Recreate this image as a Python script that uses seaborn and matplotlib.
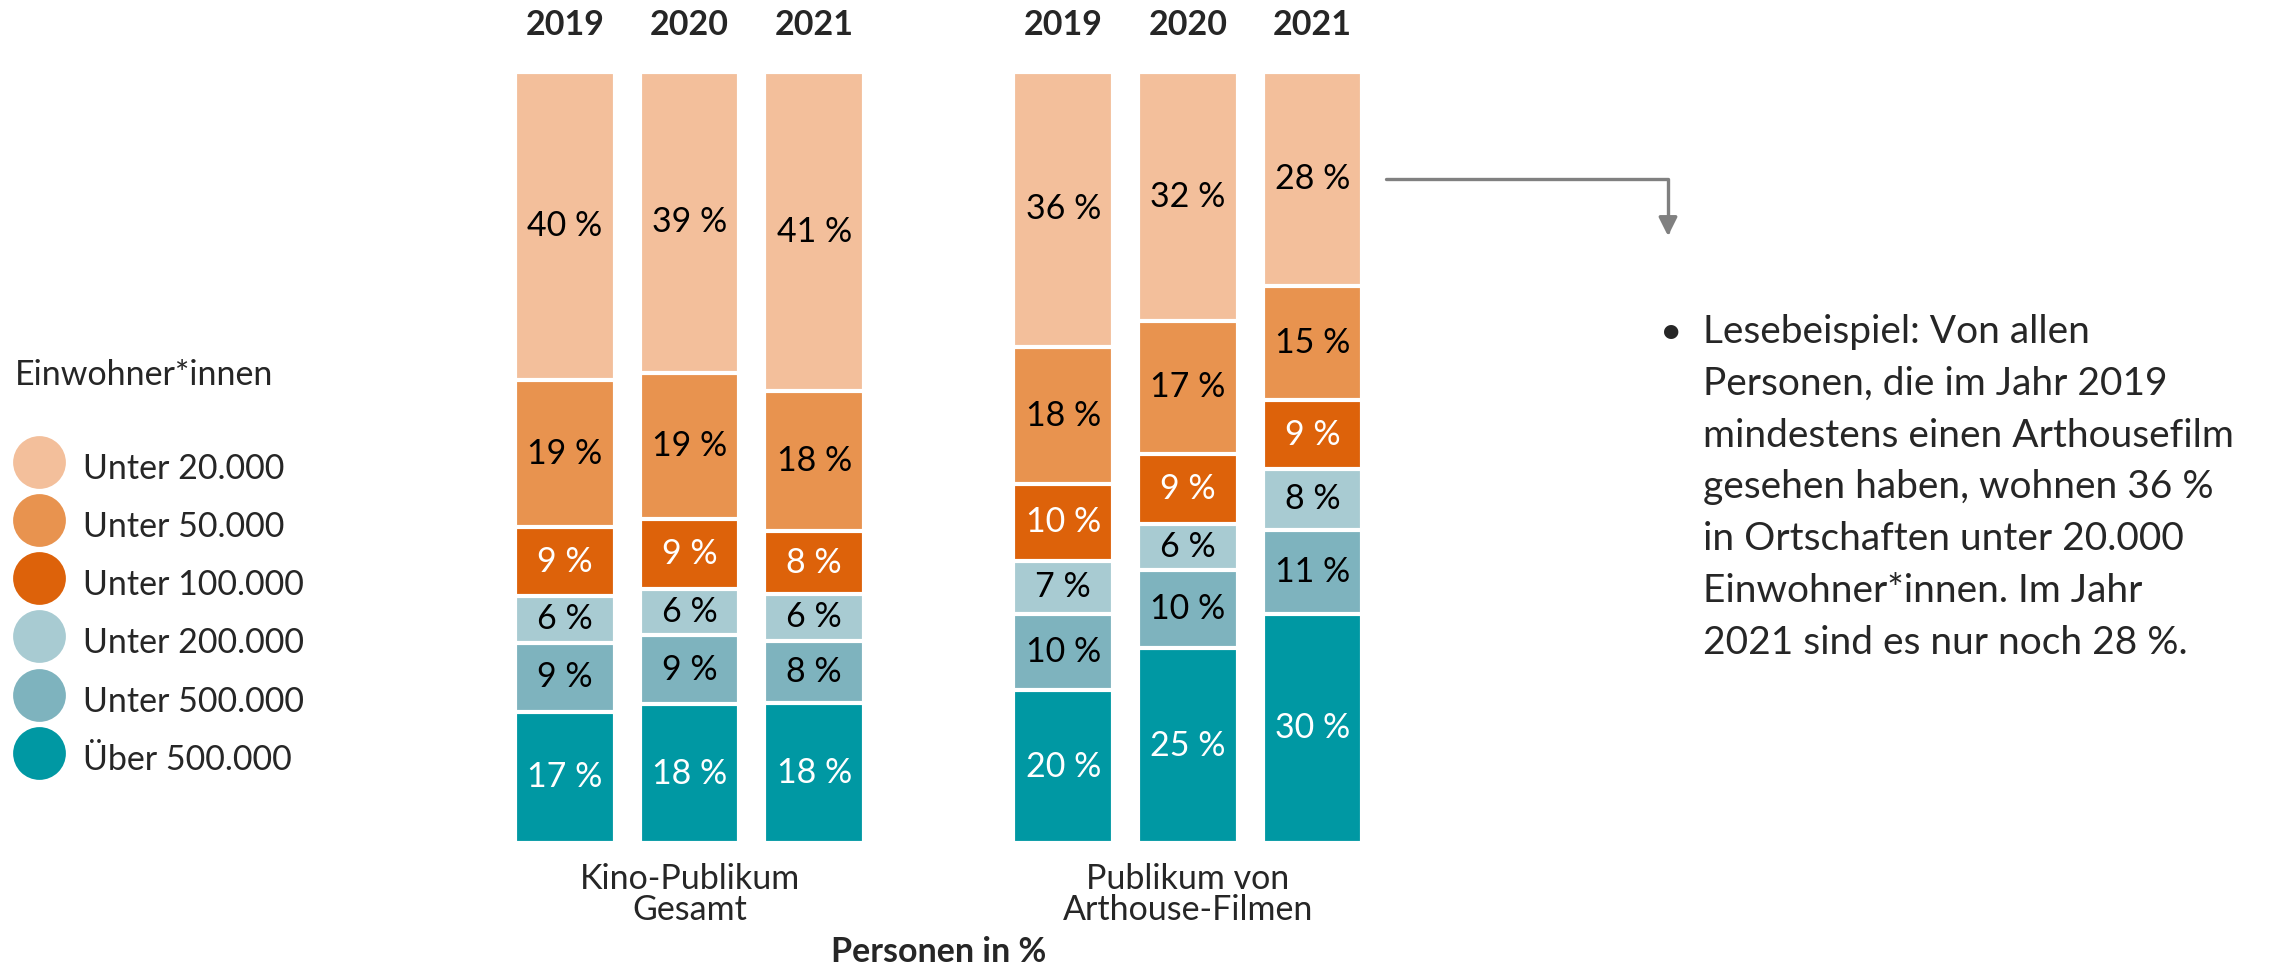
import numpy as np
import pandas as pd
import matplotlib
matplotlib.use("Agg")
import matplotlib.pyplot as plt
from matplotlib.lines import Line2D
import seaborn as sns

# data (bottom segment first)
years = ["2019", "2020", "2021", "2019", "2020", "2021"]
positions = [0, 1, 2, 4, 5, 6]
groups = ["Kino-Publikum\nGesamt", "Publikum von\nArthouse-Filmen"]
categories = ["Über 500.000", "Unter 500.000", "Unter 200.000",
              "Unter 100.000", "Unter 50.000", "Unter 20.000"]
ueber_500k = [17, 18, 18, 20, 25, 30]
unter_500k = [9, 9, 8, 10, 10, 11]
unter_200k = [6, 6, 6, 7, 6, 8]
unter_100k = [9, 9, 8, 10, 9, 9]
unter_50k = [19, 19, 18, 18, 17, 15]
unter_20k = [40, 39, 41, 36, 32, 28]

colors = ["#0098A3", "#7EB3BE", "#A8CBD2", "#DD620A", "#E8934F", "#F3BF9B"]
text_colors = ["white", "black", "black", "white", "black", "black"]

lesebeispiel = [
    "Lesebeispiel: Von allen",
    "Personen, die im Jahr 2019",
    "mindestens einen Arthousefilm",
    "gesehen haben, wohnen 36 %",
    "in Ortschaften unter 20.000",
    "Einwohner*innen. Im Jahr",
    "2021 sind es nur noch 28 %.",
]

df = pd.DataFrame([ueber_500k, unter_500k, unter_200k, unter_100k, unter_50k, unter_20k],
                  index=categories).T
df["pos"] = positions
shares = df[categories].div(df[categories].sum(axis=1), axis=0) * 100
cum = shares.cumsum(axis=1)

sns.set_theme(style="white")
plt.rcParams["font.family"] = ["Lato", "DejaVu Sans"]
FS = 24.5
FS_NOTE = 28

fig = plt.figure(figsize=(22.72, 9.66), dpi=100)
ax = fig.add_axes([0.21578, 0.12733, 0.39480, 0.79814])

# stacked bars: draw cumulative totals from the top segment down
for i in range(len(categories) - 1, -1, -1):
    plot_df = pd.DataFrame({"pos": positions, "val": cum[categories[i]].values})
    sns.barplot(data=plot_df, x="pos", y="val", native_scale=True, color=colors[i],
                saturation=1, errorbar=None, edgecolor="white", linewidth=3, ax=ax)

# segment labels
for i, cat in enumerate(categories):
    lower = cum[cat] - shares[cat]
    for j in range(len(positions)):
        mid = lower.iloc[j] + shares[cat].iloc[j] / 2
        ax.text(positions[j], mid, f"{df[cat].iloc[j]} %", ha="center", va="center",
                fontsize=FS, color=text_colors[i])

# year labels above the bars
for p, y in zip(positions, years):
    ax.text(p, 106.1, y, ha="center", va="center", fontsize=FS, fontweight="bold")

ax.text(1, -6.7, groups[0], ha="center", va="center", fontsize=FS, linespacing=0.95)
ax.text(5, -6.7, groups[1], ha="center", va="center", fontsize=FS, linespacing=0.95)
ax.text(3, -14.1, "Personen in %", ha="center", va="center", fontsize=FS, fontweight="bold")

ax.set_xlim(-0.6, 6.6)
ax.set_ylim(0, 100)
ax.set_xlabel("")
ax.set_ylabel("")
ax.set_xticks([])
ax.set_yticks([])
for s in ax.spines.values():
    s.set_visible(False)

# legend
fig.text(15 / 2272, 1 - 375 / 966, "Einwohner*innen", ha="left", va="center", fontsize=FS)
handles = [Line2D([], [], marker="o", linestyle="", markersize=38, markerfacecolor=c,
                  markeredgewidth=0) for c in colors[::-1]]
fig.legend(handles, categories[::-1], loc="upper left", bbox_to_anchor=(12.5 / 2272, 0.5395),
           frameon=False, fontsize=FS, handlelength=1.56, handleheight=1.7,
           labelspacing=0.36, handletextpad=0.5, borderpad=0, borderaxespad=0)

# arrow to the note
ax.annotate("", xy=(1668, 966 - 236), xytext=(1386, 966 - 179),
            xycoords="figure pixels", textcoords="figure pixels",
            arrowprops=dict(arrowstyle="-|>", connectionstyle="angle,angleA=0,angleB=90,rad=0",
                            color="#808080", lw=2.4, shrinkA=0, shrinkB=0, mutation_scale=28))

# note
fig.text(1671 / 2272, 1 - 332 / 966, "•", ha="center", va="center", fontsize=FS_NOTE)
for k, line in enumerate(lesebeispiel):
    fig.text(1703 / 2272, 1 - (332 + 51.8 * k) / 966, line, ha="left", va="center",
             fontsize=FS_NOTE)

fig.savefig("out.png", dpi=100)
